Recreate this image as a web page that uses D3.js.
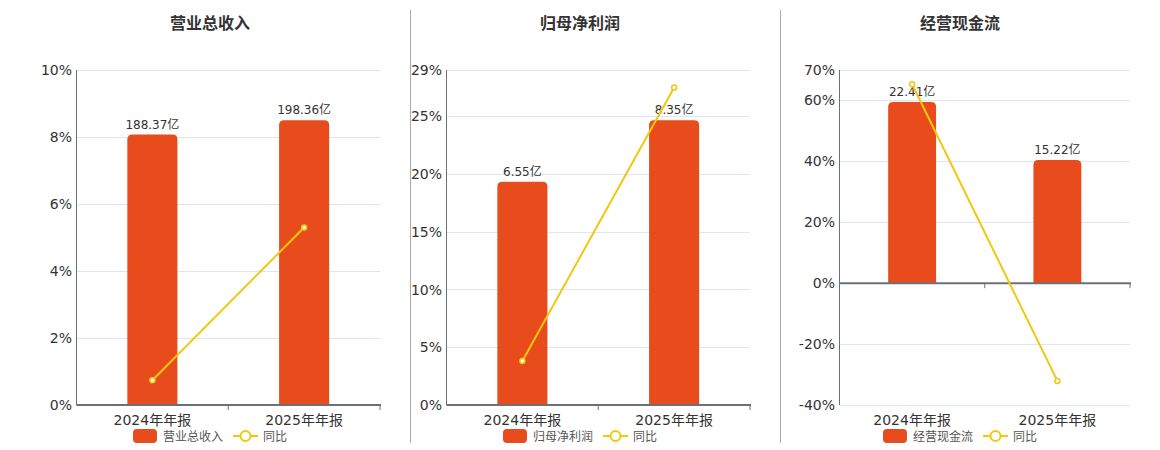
<!DOCTYPE html>
<html>
<head>
<meta charset="utf-8">
<script src="https://cdn.jsdelivr.net/npm/d3@7"></script>
<style>
    body { margin: 0; background: #fff; }
    svg text { font-family: "DejaVu Sans", "Noto Sans CJK SC", sans-serif; }
</style>
</head>
<body>
<svg id="chart" width="1160" height="450"></svg>
<script>
// chart data
var categories = ['2024年年报', '2025年年报'];
var titles = ['营业总收入', '归母净利润', '经营现金流'];
var barValues = [[188.37, 198.36], [6.55, 8.35], [22.41, 15.22]];
var yoyValues = [[0.74, 5.30], [3.81, 27.48], [65.3, -32.08]];
var yTicks = [[0, 2, 4, 6, 8, 10], [0, 5, 10, 15, 20, 25, 29], [-40, -20, 0, 20, 40, 60, 70]];

// panel layout
var panels = [
    {left: 76.5, right: 380, center: 210},
    {left: 446.5, right: 750, center: 580},
    {left: 839.5, right: 1130, center: 960}
];
var plotTop = 70, plotBottom = 405;
var barColor = '#e84c1d', lineColor = '#f2c80f';

var svg = d3.select('#chart');

// dividers between panels
[410.5, 780.5].forEach(function (x) {
    svg.append('line')
        .attr('x1', x).attr('x2', x)
        .attr('y1', 10).attr('y2', 443)
        .style('stroke', '#aaa')
        .style('stroke-width', 1);
});

function topRoundedBar(x, y, w, h, r) {
    r = Math.min(r, h);
    return 'M' + x + ',' + (y + h) +
        'V' + (y + r) +
        'Q' + x + ',' + y + ' ' + (x + r) + ',' + y +
        'H' + (x + w - r) +
        'Q' + (x + w) + ',' + y + ' ' + (x + w) + ',' + (y + r) +
        'V' + (y + h) + 'Z';
}

panels.forEach(function (p, i) {
    var g = svg.append('g');
    var ticks = yTicks[i];

    var x = d3.scaleBand()
        .domain(categories)
        .range([p.left, p.right]);

    var y = d3.scaleLinear()
        .domain([d3.min(ticks), d3.max(ticks)])
        .range([plotBottom, plotTop]);

    // hidden value axis for the bars, zero aligned with the percent axis
    var barMax = d3.max(barValues[i]) / 0.85;
    var yBar = d3.scaleLinear()
        .domain([0, barMax])
        .range([y(0), plotTop]);

    // title
    g.append('text')
        .attr('x', p.center)
        .attr('y', 29)
        .attr('text-anchor', 'middle')
        .style('font-size', '16px')
        .style('font-weight', 'bold')
        .style('fill', '#333')
        .text(titles[i]);

    // grid
    g.append('g')
        .selectAll('line')
        .data(ticks)
        .enter().append('line')
        .attr('x1', p.left).attr('x2', p.right)
        .attr('y1', function (d) { return Math.round(y(d)) + 0.5; })
        .attr('y2', function (d) { return Math.round(y(d)) + 0.5; })
        .style('stroke', '#e0e6f1')
        .style('stroke-width', 1);

    // y labels
    g.append('g')
        .selectAll('text')
        .data(ticks)
        .enter().append('text')
        .attr('x', p.left - 4.5)
        .attr('y', function (d) { return y(d); })
        .attr('dy', '0.36em')
        .attr('text-anchor', 'end')
        .style('font-size', '14px')
        .style('fill', '#333')
        .text(function (d) { return d + '%'; });

    // y axis line
    g.append('line')
        .attr('x1', p.left).attr('x2', p.left)
        .attr('y1', plotTop).attr('y2', plotBottom)
        .style('stroke', '#6e7079')
        .style('stroke-width', 1);

    // bars
    var bw = x.bandwidth() * 0.33;
    g.append('g')
        .selectAll('path')
        .data(barValues[i])
        .enter().append('path')
        .attr('d', function (d, j) {
            var bx = x(categories[j]) + (x.bandwidth() - bw) / 2;
            return topRoundedBar(bx, yBar(d), bw, yBar(0) - yBar(d), 5);
        })
        .style('fill', barColor);

    // bar labels
    g.append('g')
        .selectAll('text')
        .data(barValues[i])
        .enter().append('text')
        .attr('x', function (d, j) { return x(categories[j]) + x.bandwidth() / 2; })
        .attr('y', function (d) { return yBar(d) - 6; })
        .attr('text-anchor', 'middle')
        .style('font-size', '12px')
        .style('fill', '#333')
        .text(function (d) { return d.toFixed(2) + '亿'; });

    // x axis at zero
    var y0 = y(0);
    g.append('line')
        .attr('x1', p.left).attr('x2', p.right + 1)
        .attr('y1', y0).attr('y2', y0)
        .style('stroke', '#6e7079')
        .style('stroke-width', 2);

    g.append('g')
        .selectAll('line')
        .data(categories.slice(1).concat(['end']))
        .enter().append('line')
        .attr('x1', function (d) { return d === 'end' ? p.right : x(d); })
        .attr('x2', function (d) { return d === 'end' ? p.right : x(d); })
        .attr('y1', y0).attr('y2', y0 + 5)
        .style('stroke', '#6e7079')
        .style('stroke-width', 1);

    // x labels
    g.append('g')
        .selectAll('text')
        .data(categories)
        .enter().append('text')
        .attr('x', function (d) { return x(d) + x.bandwidth() / 2; })
        .attr('y', 425)
        .attr('text-anchor', 'middle')
        .style('font-size', '14px')
        .style('fill', '#333')
        .text(function (d) { return d; });

    // yoy line
    var line = d3.line()
        .x(function (d, j) { return x(categories[j]) + x.bandwidth() / 2; })
        .y(function (d) { return y(d); });

    g.append('path')
        .datum(yoyValues[i])
        .attr('d', line)
        .style('fill', 'none')
        .style('stroke', lineColor)
        .style('stroke-width', 2);

    g.append('g')
        .selectAll('circle')
        .data(yoyValues[i])
        .enter().append('circle')
        .attr('cx', function (d, j) { return x(categories[j]) + x.bandwidth() / 2; })
        .attr('cy', function (d) { return y(d); })
        .attr('r', 2.5)
        .style('fill', '#fff')
        .style('stroke', lineColor)
        .style('stroke-width', 1.5);

    // legend
    var c = p.center, ly = 436;
    g.append('rect')
        .attr('x', c - 77).attr('y', ly - 7)
        .attr('width', 24).attr('height', 14)
        .attr('rx', 4)
        .style('fill', barColor);
    g.append('text')
        .attr('x', c - 47).attr('y', ly + 4.5)
        .style('font-size', '12px')
        .style('fill', '#555')
        .text(titles[i]);
    g.append('line')
        .attr('x1', c + 23).attr('x2', c + 48)
        .attr('y1', ly).attr('y2', ly)
        .style('stroke', lineColor)
        .style('stroke-width', 2);
    g.append('circle')
        .attr('cx', c + 35.5).attr('cy', ly)
        .attr('r', 5)
        .style('fill', '#fff')
        .style('stroke', lineColor)
        .style('stroke-width', 2);
    g.append('text')
        .attr('x', c + 53).attr('y', ly + 4.5)
        .style('font-size', '12px')
        .style('fill', '#555')
        .text('同比');
});
</script>
</body>
</html>
